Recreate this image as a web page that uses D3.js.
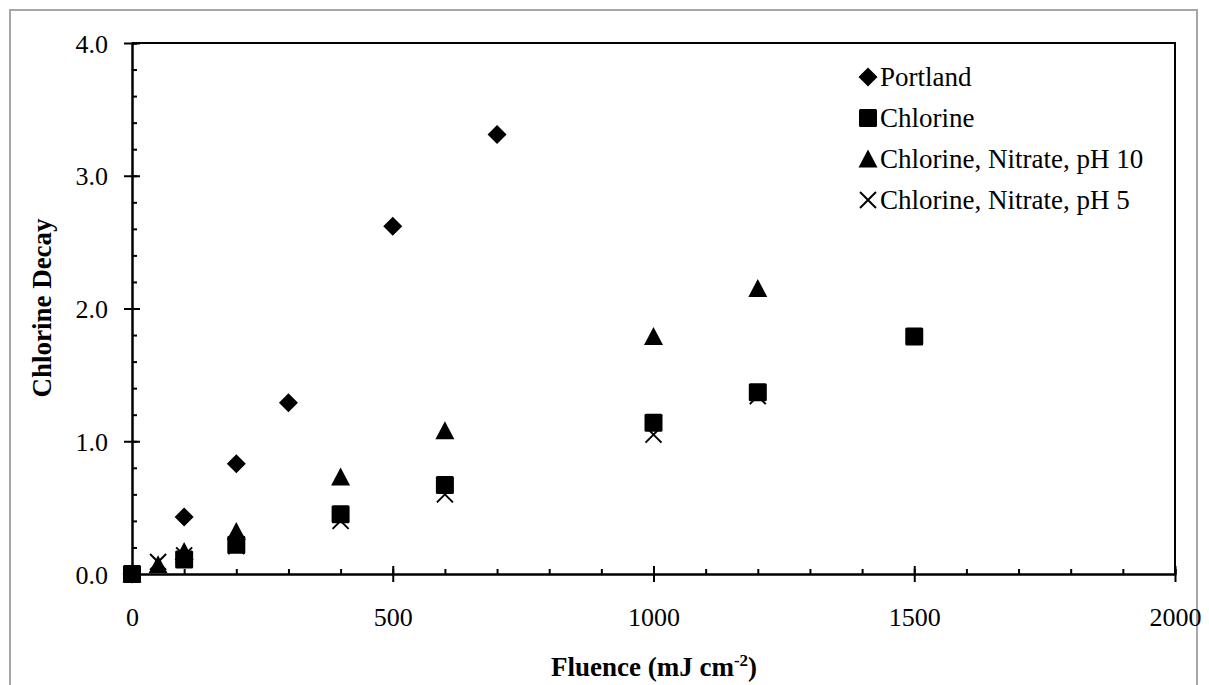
<!DOCTYPE html>
<html lang="en">
    <head>
        <meta charset="utf-8">
        <title>Chlorine Decay</title>
        <script src="https://d3js.org/d3.v7.min.js"></script>
        <style>
            body { margin: 0; background: #fff; }
            text { font-family: "Liberation Serif", "Times New Roman", serif; fill: #000; }
        </style>
    </head>
    <body>
        <div id="chart_area"></div>
        <script type="text/javascript">
            // data
            var series_names = ["Portland", "Chlorine", "Chlorine, Nitrate, pH 10", "Chlorine, Nitrate, pH 5"];
            var fluence_portland = [0, 100, 200, 300, 500, 700];
            var decay_portland = [0, 0.43, 0.83, 1.29, 2.62, 3.31];
            var fluence_chlorine = [0, 100, 200, 400, 600, 1000, 1200, 1500];
            var decay_chlorine = [0, 0.11, 0.22, 0.45, 0.67, 1.14, 1.37, 1.79];
            var fluence_ph10 = [0, 50, 100, 200, 400, 600, 1000, 1200];
            var decay_ph10 = [0, 0.07, 0.17, 0.32, 0.73, 1.08, 1.79, 2.15];
            var fluence_ph5 = [0, 50, 100, 200, 400, 600, 1000, 1200];
            var decay_ph5 = [0, 0.09, 0.14, 0.21, 0.40, 0.60, 1.05, 1.34];
            var x_ticks = [0, 500, 1000, 1500, 2000];
            var y_ticks = [0, 1, 2, 3, 4];

            var W = 1209, H = 685;
            var svg = d3.select("#chart_area").append("svg").attr("width", W).attr("height", H);

            // outer grey frame
            svg.append("rect").attr("x", 10).attr("y", 10).attr("width", 1187).attr("height", 700)
                .attr("fill", "#fff").attr("stroke", "#a6a6a6").attr("stroke-width", 2);

            var x = d3.scaleLinear().domain([0, 2000]).range([132, 1175]);
            var y = d3.scaleLinear().domain([0, 4]).range([574, 43]);

            // plot frame (top + right)
            svg.append("path")
                .attr("d", "M" + x(0) + "," + y(4) + "H" + x(2000) + "V" + y(0))
                .attr("fill", "none").attr("stroke", "#000").attr("stroke-width", 2);

            // minor ticks (inside)
            var x_axis_minor = d3.axisTop(x).tickValues(d3.range(0, 2001, 100)).tickSize(5).tickFormat("");
            var y_axis_minor = d3.axisRight(y).tickValues(d3.range(0, 4.01, 0.2)).tickSize(5).tickFormat("");
            svg.append("g").attr("transform", "translate(0," + y(0) + ")").call(x_axis_minor);
            svg.append("g").attr("transform", "translate(" + x(0) + ",0)").call(y_axis_minor);

            // major ticks, crossing the axis
            var x_axis = d3.axisBottom(x).tickValues(x_ticks).tickSizeInner(8).tickSizeOuter(0).tickPadding(26).tickFormat(d3.format("d"));
            var y_axis = d3.axisLeft(y).tickValues(y_ticks).tickSizeInner(8).tickSizeOuter(0).tickPadding(16).tickFormat(d3.format(".1f"));
            var gx = svg.append("g").attr("transform", "translate(0," + y(0) + ")").call(x_axis);
            var gy = svg.append("g").attr("transform", "translate(" + x(0) + ",0)").call(y_axis);
            gx.selectAll(".tick line").attr("y1", -8);
            gy.selectAll(".tick line").attr("x1", 8);

            svg.selectAll(".domain, .tick line").attr("stroke", "#000").attr("stroke-width", 2);
            svg.selectAll(".tick text").style("font-family", "Liberation Serif").style("font-size", "26px").attr("fill", "#000");
            gy.selectAll(".tick text").attr("dy", "0.35em");

            // axis titles
            svg.append("text").attr("transform", "translate(51,308) rotate(-90)")
                .attr("text-anchor", "middle").style("font-size", "27px").style("font-weight", "bold")
                .text("Chlorine Decay");
            var xt = svg.append("text").attr("x", 654).attr("y", 676).attr("text-anchor", "middle")
                .style("font-size", "27px").style("font-weight", "bold");
            xt.append("tspan").text("Fluence (mJ cm");
            xt.append("tspan").attr("dy", -10).style("font-size", "17px").text("-2");
            xt.append("tspan").attr("dy", 10).text(")");

            // marker shapes
            function drawMarker(g, kind) {
                if (kind == 0) {
                    g.append("path").attr("d", "M0,-9.5L9.5,0L0,9.5L-9.5,0Z").attr("fill", "#000");
                } else if (kind == 1) {
                    g.append("rect").attr("x", -9).attr("y", -9).attr("width", 18).attr("height", 18).attr("rx", 1.5).attr("fill", "#000");
                } else if (kind == 2) {
                    g.append("path").attr("d", "M0,-9.5L9.5,8.5L-9.5,8.5Z").attr("fill", "#000");
                } else {
                    g.append("path").attr("d", "M-8,-8L8,8M8,-8L-8,8").attr("stroke", "#000").attr("stroke-width", 2).attr("fill", "none");
                }
            }

            var series = [
                {kind: 3, xs: fluence_ph5, ys: decay_ph5},
                {kind: 2, xs: fluence_ph10, ys: decay_ph10},
                {kind: 1, xs: fluence_chlorine, ys: decay_chlorine},
                {kind: 0, xs: fluence_portland, ys: decay_portland}
            ];
            series.forEach(function(s) {
                var pts = s.xs.map(function(v, i) { return [v, s.ys[i]]; });
                svg.append("g").selectAll("g").data(pts).enter().append("g")
                    .attr("transform", function(d) { return "translate(" + x(d[0]) + "," + y(d[1]) + ")"; })
                    .each(function() { drawMarker(d3.select(this), s.kind); });
            });

            // legend
            var legend = svg.append("g").attr("transform", "translate(868,0)");
            series_names.forEach(function(name, i) {
                var row = legend.append("g").attr("transform", "translate(0," + (77 + i * 41) + ")");
                drawMarker(row, i);
                row.append("text").attr("x", 12).attr("y", 9).style("font-size", "27px").text(name);
            });
        </script>
    </body>
</html>
